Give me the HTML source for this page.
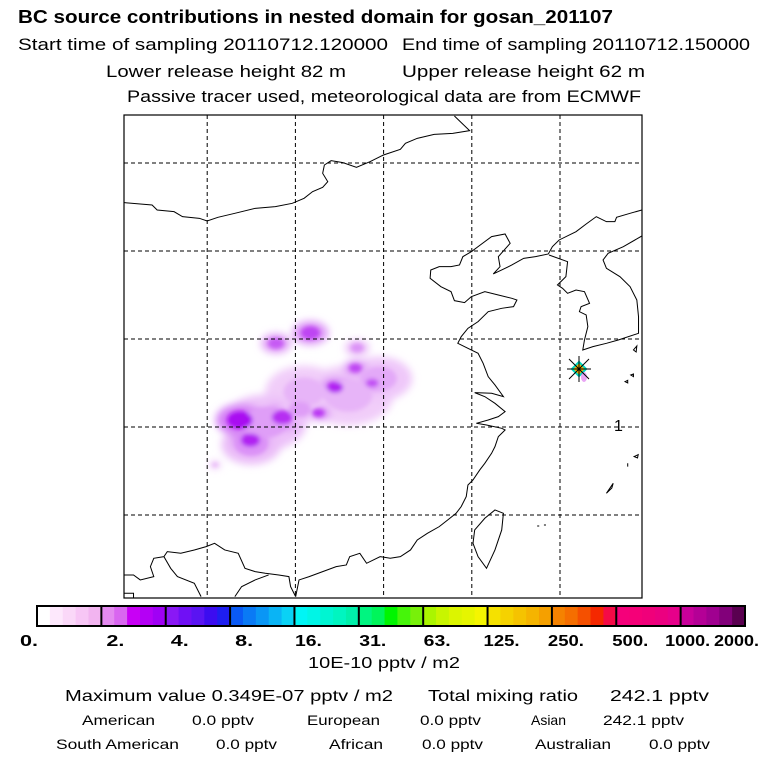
<!DOCTYPE html>
<html><head><meta charset="utf-8"><style>
html,body{margin:0;padding:0;background:#fff}
svg{display:block}
text{font-family:"Liberation Sans",Arial,sans-serif;fill:#000}
</style></head><body>
<svg id="chart" width="768" height="768" viewBox="0 0 768 768" xmlns="http://www.w3.org/2000/svg">
<defs>
<filter id="blur" x="-50%" y="-50%" width="200%" height="200%"><feGaussianBlur stdDeviation="4"/></filter>
<filter id="blur2" x="-50%" y="-50%" width="200%" height="200%"><feGaussianBlur stdDeviation="2"/></filter>
<clipPath id="mapclip"><rect x="124" y="115" width="518" height="483"/></clipPath>
</defs>
<g>
<text x="18" y="23" font-size="18" font-weight="bold" textLength="595" lengthAdjust="spacingAndGlyphs">BC  source contributions in nested domain for gosan_201107</text>
<text x="18" y="50" font-size="17" textLength="370" lengthAdjust="spacingAndGlyphs">Start time of sampling 20110712.120000</text>
<text x="402" y="50" font-size="17" textLength="348" lengthAdjust="spacingAndGlyphs">End time of sampling 20110712.150000</text>
<text x="106" y="77" font-size="17" textLength="240" lengthAdjust="spacingAndGlyphs">Lower release height   82 m</text>
<text x="402" y="77" font-size="17" textLength="243" lengthAdjust="spacingAndGlyphs">Upper release height   62 m</text>
<text x="127" y="102" font-size="17" textLength="514" lengthAdjust="spacingAndGlyphs">Passive tracer used, meteorological data are from ECMWF</text>
</g>
<g clip-path="url(#mapclip)">
<g id="plume"></g>
<g fill="none" stroke="#000" stroke-width="3" transform="translate(120,110) scale(0.3378,0.3333)">
<path d="M990,18 L1035,62 985,70 930,73 880,85 845,100 830,118 780,135 740,155 700,172 660,158 625,152 605,165 600,190 615,215 600,232 570,245 545,265 510,280 460,290 400,295 340,310 290,322 258,333 235,325 185,320 160,305 110,300 95,285 60,282 13,278"/>
<path d="M1545,300 L1510,310 1470,322 1465,335 1440,335 1410,320 1380,342 1350,365 1300,390 1280,410 1268,432 1230,440 1195,445 1160,465 1130,480 1105,492 1125,470 1120,440 1155,400 1140,372 1100,380 1060,410 1040,425 1015,440 1005,465 980,470 945,470 920,480 918,505 950,530 980,545 990,572 1020,578 1040,560 1080,545 1120,555 1160,565 1175,570 1165,590 1130,595 1090,605 1060,635 1030,655 1010,680 1000,700 1030,715 1060,730 1075,760 1090,800 1110,825 1135,860 1100,850 1050,848 1080,860 1110,880 1140,905 1120,920 1090,930 1055,940 1085,945 1130,955 1140,960 1120,980 1110,1010 1100,1030 1080,1060 1065,1080 1045,1110 1030,1125 1025,1160 1010,1190 995,1210 970,1230 945,1250 910,1270 880,1290 860,1320 830,1340 800,1345 770,1340 730,1360 710,1330 680,1340 670,1365 640,1370 600,1385 560,1400 530,1410 520,1460"/>
<path d="M520,1460 L505,1430 500,1400 470,1395 430,1390 400,1385 370,1375 350,1330 310,1320 280,1300 255,1310 220,1320 180,1330 140,1325 130,1340 100,1345 90,1370 100,1400 60,1410 40,1395 13,1395"/>
<path d="M130,1340 L150,1375 170,1400 220,1420 240,1460 M340,1460 L360,1430 400,1410 440,1395 M13,1450 L40,1450 40,1470"/>
<path d="M1270,435 L1325,455 1320,500 1295,525 1310,535 1325,550 1350,540 1375,545 1390,580 1365,590 1360,605 1380,615 1385,650 1375,690 1370,720 1400,710 1440,700 1475,690 1535,670 1535,620 1530,570 1510,530 1480,500 1440,475 1430,450 1445,430 1490,410 1545,378"/>
<path d="M1110,1200 L1135,1210 1130,1260 1110,1320 1085,1375 1060,1340 1045,1300 1050,1260 1080,1225 Z"/>
<path d="M1520,720 l10,-12 l-2,18 z M1495,815 l8,-4 l0,8 z M1512,795 l8,-3 l0,8 z M1522,1040 l12,-6 l-2,10 z M1440,1150 l20,-30 l-4,14 z M1235,1248 l6,0 M1255,1245 l6,0 M1503,1060 l0,10"/>
</g>
<g id="grid" stroke="#000" stroke-width="1" stroke-dasharray="4,3"></g>
<g>
<rect x="573" y="363" width="12" height="12" transform="rotate(45 579 369)" fill="#00d8c0"/>
<rect x="575" y="365" width="8" height="8" transform="rotate(45 579 369)" fill="#f5b400"/>
<ellipse cx="584" cy="377" rx="3" ry="5" fill="#e080f0" opacity="0.7"/>
<g stroke="#000" stroke-width="1"><line x1="567" y1="369" x2="591" y2="369"/><line x1="579" y1="356" x2="579" y2="382"/><line x1="569" y1="359" x2="589" y2="379"/><line x1="589" y1="359" x2="569" y2="379"/></g>
</g>
<text x="614" y="431" font-size="16">1</text>
</g>
<rect x="124" y="115" width="518" height="483" fill="none" stroke="#000" stroke-width="1.2"/>
<g id="colorbar"></g>
<text x="308" y="668" font-size="16" textLength="152" lengthAdjust="spacingAndGlyphs">10E-10 pptv / m2</text>
<g>
<text x="65" y="701" font-size="16" textLength="328" lengthAdjust="spacingAndGlyphs">Maximum value  0.349E-07 pptv / m2</text>
<text x="428" y="701" font-size="16" textLength="150" lengthAdjust="spacingAndGlyphs">Total mixing ratio</text>
<text x="610" y="701" font-size="16" textLength="99" lengthAdjust="spacingAndGlyphs">242.1 pptv</text>
<g font-size="14">
<text x="82" y="725" textLength="73" lengthAdjust="spacingAndGlyphs">American</text>
<text x="192" y="725" textLength="62" lengthAdjust="spacingAndGlyphs">0.0 pptv</text>
<text x="307" y="725" textLength="73" lengthAdjust="spacingAndGlyphs">European</text>
<text x="420" y="725" textLength="61" lengthAdjust="spacingAndGlyphs">0.0 pptv</text>
<text x="531" y="725" textLength="35" lengthAdjust="spacingAndGlyphs">Asian</text>
<text x="603" y="725" textLength="81" lengthAdjust="spacingAndGlyphs">242.1 pptv</text>
<text x="56" y="749" textLength="123" lengthAdjust="spacingAndGlyphs">South American</text>
<text x="216" y="749" textLength="61" lengthAdjust="spacingAndGlyphs">0.0 pptv</text>
<text x="329" y="749" textLength="54" lengthAdjust="spacingAndGlyphs">African</text>
<text x="422" y="749" textLength="61" lengthAdjust="spacingAndGlyphs">0.0 pptv</text>
<text x="535" y="749" textLength="76" lengthAdjust="spacingAndGlyphs">Australian</text>
<text x="649" y="749" textLength="61" lengthAdjust="spacingAndGlyphs">0.0 pptv</text>
</g>
</g>
</svg>
<script>
const tickLabels = ["0.","2.","4.","8.","16.","31.","63.","125.","250.","500.","1000.","2000."];
const segmentColors = [
 ["#ffffff","#fde8fc","#fad8f8","#f7c6f5","#f2b4f0"],
 ["#e48af0","#d966f0","#c800f5","#b400f5","#a000f5"],
 ["#8a18f5","#7010f5","#5a14f2","#3c0cf0","#1e1ef0"],
 ["#0a5af5","#0a7af5","#0a96f5","#0ab4f5","#0ad2f5"],
 ["#00f5f5","#00f5e6","#00f5d2","#00f5c0","#00f0aa"],
 ["#00f580","#00f55a","#00f500","#46f50a","#78f00a"],
 ["#aaf500","#c8f500","#dcf500","#e6f500","#f5f500"],
 ["#f5e100","#f5d200","#f5c300","#f5b400","#f5a000"],
 ["#f58200","#f56e00","#f55000","#f52800","#f50a46"],
 ["#f5007a","#f50078","#f0007a","#eb0080","#e6008a"],
 ["#c8009a","#b40096","#a00090","#82007a","#5a0050"]
];
const gridLonIdx = [1,2,3,4,5];
const gridLatIdx = [1,2,3,4,5];
// plume blobs in grid-cell units (lon index, lat index), radius, intensity level 0..1
const plumeX = [2.6,2.95,2.1,1.65,1.5,1.37,1.49,1.85,2.45,2.26,2.68,2.87,2.17,1.78,1.09,2.05,2.7];
const plumeY = [3.64,3.45,3.6,3.95,4.2,3.92,4.15,3.89,3.55,3.84,3.33,3.5,2.93,3.05,4.43,3.8,3.1];
const plumeR = [30,22,26,28,20,16,12,13,10,8,8,8,12,10,4,14,8];
const plumeLevel = [0.2,0.25,0.2,0.3,0.35,0.95,0.85,0.8,0.85,0.75,0.7,0.65,0.7,0.6,0.2,0.3,0.35];

const NS="http://www.w3.org/2000/svg";
function lonX(i){return 119 + i*88.2;}
function latY(i){return 75 + i*88;}
function mk(tag,attrs,parent){const e=document.createElementNS(NS,tag);for(const k in attrs)e.setAttribute(k,attrs[k]);parent.appendChild(e);return e;}

const grid=document.getElementById('grid');
gridLonIdx.forEach(i=>{
  const l=mk('line',{x1:lonX(i),x2:lonX(i),y1:115,y2:598},grid);
  
  
});
gridLatIdx.forEach(i=>{
  const l=mk('line',{x1:124,x2:642,y1:latY(i),y2:latY(i)},grid);
  
  
});

function levelColor(v){
  const r=Math.round(248-(248-165)*v), g=Math.round(225-(225-0)*v), b=Math.round(250-(250-240)*v);
  return `rgb(${r},${g},${b})`;
}
const plume=document.getElementById('plume');
const halo=mk('g',{filter:'url(#blur)'},plume);
const core=mk('g',{filter:'url(#blur2)'},plume);
plumeX.forEach((px,i)=>{
  const cx=lonX(px), cy=latY(plumeY[i]);
  const h=mk('ellipse',{cx:cx,cy:cy,rx:plumeR[i]*1.5,ry:plumeR[i]*1.0,fill:levelColor(plumeLevel[i]*0.45)},halo);
  
  
  const c=mk('ellipse',{cx:cx,cy:cy,rx:plumeR[i]*0.8,ry:plumeR[i]*0.55,fill:levelColor(plumeLevel[i])},core);
  
  
});

const cb=document.getElementById('colorbar');
const cbX0=37, cbX1=745, cbY=606, cbH=20;
const segW=(cbX1-cbX0)/segmentColors.length;
function cbX(i){return cbX0+i*segW;}
segmentColors.forEach((cols,s)=>{
  const sw=segW/cols.length;
  cols.forEach((c,k)=>{
    const r=mk('rect',{x:cbX(s)+k*sw,y:cbY,width:sw+0.6,height:cbH,fill:c},cb);
    
    
  });
  const b=mk('line',{x1:cbX(s),x2:cbX(s),y1:cbY,y2:cbY+cbH,stroke:'#000','stroke-width':2},cb);
  
  
});
const fr=mk('rect',{x:cbX0,y:cbY,width:cbX1-cbX0,height:cbH,fill:'none',stroke:'#000','stroke-width':2},cb);


tickLabels.forEach((t,i)=>{
  const w=t.length*9;
  let x=cbX(i)+14-w/2;
  if(i===0)x=20;
  if(i===tickLabels.length-2)x=cbX(i)+10-w/2-3;
  if(i===tickLabels.length-1)x=714;
  const tx=mk('text',{x:x,y:646,'font-size':16,'font-weight':'bold',textLength:w,lengthAdjust:'spacingAndGlyphs'},cb);
  tx.textContent=t;
  
  
});
</script>
</body></html>
